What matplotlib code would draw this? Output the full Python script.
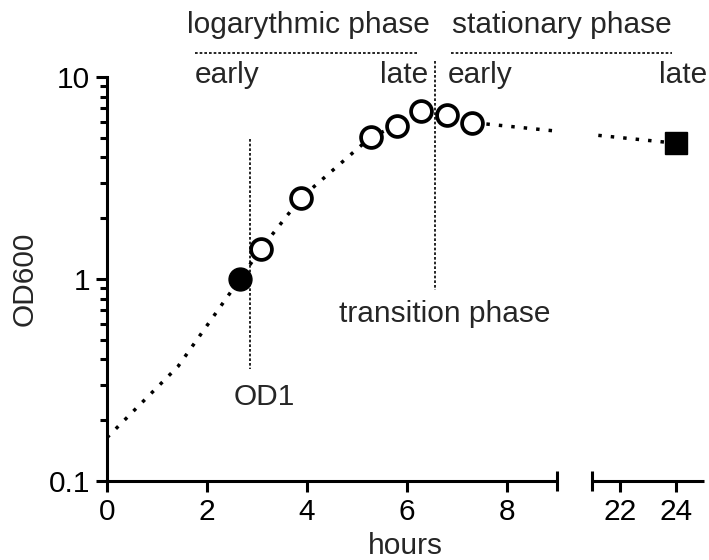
import numpy as np
import matplotlib
matplotlib.use('Agg')
import matplotlib.pyplot as plt
from matplotlib.lines import Line2D
from matplotlib.patches import Rectangle
from matplotlib.ticker import NullFormatter

plt.rcParams['font.family'] = ['Liberation Sans', 'DejaVu Sans']

# OD600 growth curve
od1_hours = [2.66]
od1_od = [1.0]
log_hours = [3.08, 3.88, 5.28, 5.80, 6.28, 6.80, 7.30]
log_od = [1.41, 2.52, 5.05, 5.75, 6.75, 6.45, 5.95]
late_hours = [24.0]
late_od = [4.70]
# dotted trend: starts at inoculation, bends before the OD1 sample
trend_hours = [0.0, 1.42] + od1_hours + log_hours + late_hours
trend_od = [0.164, 0.369] + od1_od + log_od + late_od

xticks = [0, 2, 4, 6, 8, 22, 24]
yticks = [0.1, 1, 10]
ytick_labels = ['0.1', '1', '10']

od1_time = 2.86
transition_time = 6.56

TXT = '#262626'
LW = 2.2
FS = 21.5

# broken x axis: 0-9 h, then 21-25 h squeezed
BREAK_LO, BREAK_HI = 9.0, 21.0
GAP = 0.7
RIGHT_K = 0.56


def fwd(x):
    x = np.asarray(x, dtype=float)
    return np.where(x <= BREAK_LO, x,
                    np.where(x < BREAK_HI,
                             BREAK_LO + (x - BREAK_LO) * GAP / (BREAK_HI - BREAK_LO),
                             BREAK_LO + GAP + (x - BREAK_HI) * RIGHT_K))


def inv(u):
    u = np.asarray(u, dtype=float)
    return np.where(u <= BREAK_LO, u,
                    np.where(u < BREAK_LO + GAP,
                             BREAK_LO + (u - BREAK_LO) * (BREAK_HI - BREAK_LO) / GAP,
                             BREAK_HI + (u - BREAK_LO - GAP) / RIGHT_K))


W, H = 709, 560
fig = plt.figure(figsize=(W / 100, H / 100), dpi=100)
ax = fig.add_axes([107 / W, 1 - 481 / H, (704 - 107) / W, (481 - 77) / H])
ax.set_xscale('function', functions=(fwd, inv))
ax.set_yscale('log')

ax.plot(trend_hours, trend_od, color='k', lw=2.5, linestyle=(0, (1, 2.6)), zorder=2)
# blank out the line inside the axis break
ax.add_patch(Rectangle((BREAK_LO, 0), BREAK_HI - BREAK_LO, 1,
                       transform=ax.get_xaxis_transform(),
                       facecolor='white', edgecolor='none', zorder=2.5))

ax.plot(od1_hours, od1_od, 'o', ms=16.5, color='k', zorder=4)
ax.plot(log_hours, log_od, 'o', ms=15, mfc='white', mec='k', mew=2.7, zorder=4)
ax.plot(late_hours, late_od, 's', ms=16.5, color='k', zorder=4)

# reference lines
ax.plot([od1_time, od1_time], [4.92, 0.36], color='k', lw=1.2,
        linestyle=(0, (1.6, 1.2)), zorder=1)
ax.plot([transition_time, transition_time], [12.0, 0.88], color='k', lw=1.2,
        linestyle=(0, (1.6, 1.2)), zorder=1, clip_on=False)

# hand-drawn x axis with break caps
xt = ax.get_xaxis_transform()
for lo, hi in [(0, BREAK_LO), (BREAK_HI, 25)]:
    ax.plot([lo, hi], [0, 0], color='k', lw=LW, transform=xt, clip_on=False,
            solid_capstyle='butt', zorder=5)
ax.plot([BREAK_LO, BREAK_HI], [0, 0], linestyle='none', marker='|', ms=14,
        mew=LW, color='k', transform=xt, clip_on=False, zorder=5)

ax.set_xlim(0, 25)
ax.set_ylim(0.1, 10)
ax.set_xticks(xticks)
ax.set_yticks(yticks, ytick_labels)
ax.yaxis.set_minor_formatter(NullFormatter())

for s in ['top', 'right', 'bottom']:
    ax.spines[s].set_visible(False)
ax.spines['left'].set_linewidth(LW)

ax.tick_params(which='major', length=8, width=LW, direction='out',
               labelsize=FS, pad=4, colors='k')
ax.tick_params(which='minor', length=5, width=LW, direction='out')

ax.set_xlabel('hours', fontsize=FS, color=TXT)
ax.xaxis.set_label_coords(0.5, -(554 - 481) / 404)
ax.xaxis.label.set_va('baseline')
ax.set_ylabel('OD600', fontsize=FS, color=TXT)
ax.yaxis.set_label_coords((33 - 107) / 597, 0.5)
ax.yaxis.label.set_va('baseline')

# phase headers
def ftext(x, y, s, ha):
    fig.text(x / W, 1 - y / H, s, ha=ha, va='baseline', fontsize=FS, color=TXT)

ftext(308, 33, 'logarythmic phase', 'center')
ftext(562, 33, 'stationary phase', 'center')
ftext(195, 83, 'early', 'left')
ftext(428, 83, 'late', 'right')
ftext(448, 83, 'early', 'left')
ftext(707, 83, 'late', 'right')
ftext(445, 322, 'transition phase', 'center')
ftext(264, 405, 'OD1', 'center')

for x0, x1 in [(195, 417), (451, 672)]:
    fig.add_artist(Line2D([x0 / W, x1 / W], [1 - 53 / H] * 2, color='k',
                          lw=1.2, linestyle=(0, (1.6, 1.2))))

fig.savefig('out.png', dpi=100)
